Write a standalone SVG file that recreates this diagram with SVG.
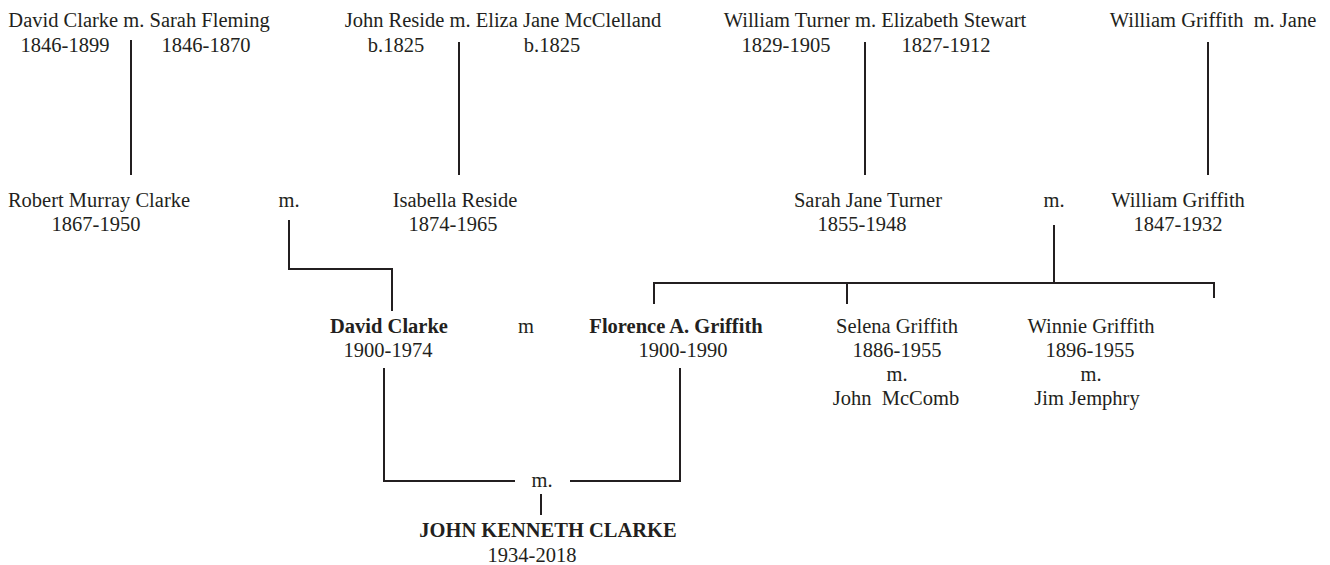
<svg xmlns="http://www.w3.org/2000/svg" width="1330" height="565" viewBox="0 0 1330 565">
<style>
text{font-family:"Liberation Serif","Times New Roman",serif;font-size:20.5px;fill:#231f20;text-anchor:middle;white-space:pre}
.b{font-weight:bold}
.c{fill:none;stroke:#231f20;stroke-width:2}
</style>
<rect width="1330" height="565" fill="#fff"/>
<g id="connectors" class="c">
<path d="M131 40V175"/>
<path d="M459 42V175"/>
<path d="M865 42V175"/>
<path d="M1208 42V175"/>
<path d="M289 220V269H392V311"/>
<path d="M1054 225V283"/>
<path d="M654 304V283H1214V298"/>
<path d="M847 283V304"/>
<path d="M384 368V481H515"/>
<path d="M570 481H680V368"/>
<path d="M541 494V515"/>
</g>
<g id="clarke-fleming"><text x="139" y="27">David Clarke m. Sarah Fleming</text><text x="65" y="52">1846-1899</text><text x="206" y="52">1846-1870</text></g>
<g id="reside-mcclelland"><text x="503" y="27">John Reside m. Eliza Jane McClelland</text><text x="396" y="52">b.1825</text><text x="552" y="52">b.1825</text></g>
<g id="turner-stewart"><text x="875" y="27">William Turner m. Elizabeth Stewart</text><text x="786" y="52">1829-1905</text><text x="946" y="52">1827-1912</text></g>
<g id="griffith-jane"><text x="1213" y="27" xml:space="preserve">William Griffith  m. Jane</text></g>
<g id="robert"><text x="99" y="207">Robert Murray Clarke</text><text x="96" y="231">1867-1950</text></g>
<g id="m1"><text x="289" y="207">m.</text></g>
<g id="isabella"><text x="455" y="207">Isabella Reside</text><text x="453" y="231">1874-1965</text></g>
<g id="sarah"><text x="868" y="207">Sarah Jane Turner</text><text x="862" y="231">1855-1948</text></g>
<g id="m2"><text x="1054" y="207">m.</text></g>
<g id="william"><text x="1178" y="207">William Griffith</text><text x="1178" y="231">1847-1932</text></g>
<g id="david"><text class="b" x="389" y="333">David Clarke</text><text x="388" y="357">1900-1974</text></g>
<g id="m3"><text x="526" y="333">m</text></g>
<g id="florence"><text class="b" x="676" y="333">Florence A. Griffith</text><text x="683" y="357">1900-1990</text></g>
<g id="selena"><text x="897" y="333">Selena Griffith</text><text x="897" y="357">1886-1955</text><text x="897" y="381">m.</text><text x="896" y="405" xml:space="preserve">John  McComb</text></g>
<g id="winnie"><text x="1091" y="333">Winnie Griffith</text><text x="1090" y="357">1896-1955</text><text x="1091" y="381">m.</text><text x="1087" y="405">Jim Jemphry</text></g>
<g id="m4"><text x="542" y="487">m.</text></g>
<g id="john"><text class="b" x="548" y="537">JOHN KENNETH CLARKE</text><text x="532" y="562">1934-2018</text></g>
</svg>
